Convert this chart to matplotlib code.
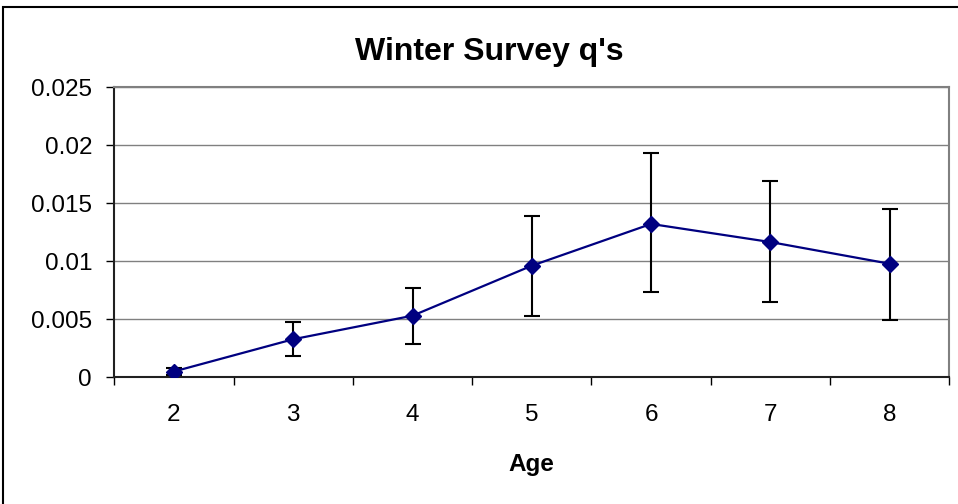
import numpy as np
import matplotlib.pyplot as plt
from matplotlib.patches import Rectangle

plt.rcParams['font.family'] = ['Liberation Sans', 'DejaVu Sans']

# Winter survey q's by age, with error bars (lower / upper)
ages = [2, 3, 4, 5, 6, 7, 8]
q_values = [0.00050, 0.00328, 0.00531, 0.00962, 0.01322, 0.01166, 0.00979]
err_low = [0.00030, 0.00142, 0.00241, 0.00431, 0.00584, 0.00514, 0.00482]
err_high = [0.00030, 0.00151, 0.00239, 0.00431, 0.00609, 0.00524, 0.00469]
y_ticks = [0, 0.005, 0.01, 0.015, 0.02, 0.025]
y_tick_labels = ['0', '0.005', '0.01', '0.015', '0.02', '0.025']

fig = plt.figure(figsize=(9.58, 5.04), dpi=100)
ax = fig.add_axes([114.3 / 958, 1 - 377.3 / 504, 835 / 958, 290 / 504])

# outer chart border
fig.patches.append(Rectangle((3 / 958, -0.01), 1.0, 1 - 7 / 504 + 0.01,
                             transform=fig.transFigure, fill=False,
                             edgecolor='black', linewidth=1.5))

ax.errorbar(ages, q_values, yerr=[err_low, err_high], fmt='none',
            ecolor='black', elinewidth=1.5, capsize=6, capthick=1.5, zorder=3)
ax.plot(ages, q_values, color='#000080', linewidth=1.6, marker='D',
        markersize=8, markerfacecolor='#000080', markeredgecolor='#000080', zorder=4)

ax.set_xlim(1.5, 8.5)
ax.set_ylim(0, 0.025)
ax.set_yticks(y_ticks)
ax.set_yticklabels(y_tick_labels)
ax.set_xticks(ages)
ax.set_xticks(np.arange(1.5, 9.0, 1.0), minor=True)
ax.tick_params(axis='x', which='major', length=0, pad=19, labelsize=17.5)
ax.tick_params(axis='x', which='minor', length=6, width=1, color='black', direction='out')
ax.tick_params(axis='y', length=6, width=1, color='black', direction='out', pad=10, labelsize=17.5)

ax.grid(axis='y', color='#808080', linewidth=1)
ax.set_axisbelow(True)
for side in ['top', 'right']:
    ax.spines[side].set_color('#808080')
    ax.spines[side].set_linewidth(1.5)
for side in ['left', 'bottom']:
    ax.spines[side].set_color('#202020')
    ax.spines[side].set_linewidth(1.5)

ax.set_xlabel('Age', fontsize=17.5, fontweight='bold', labelpad=20)
fig.text(489 / 958, 1 - 52 / 504, "Winter Survey q's", fontsize=23,
         fontweight='bold', ha='center', va='center')

fig.savefig('out.png', dpi=100)
